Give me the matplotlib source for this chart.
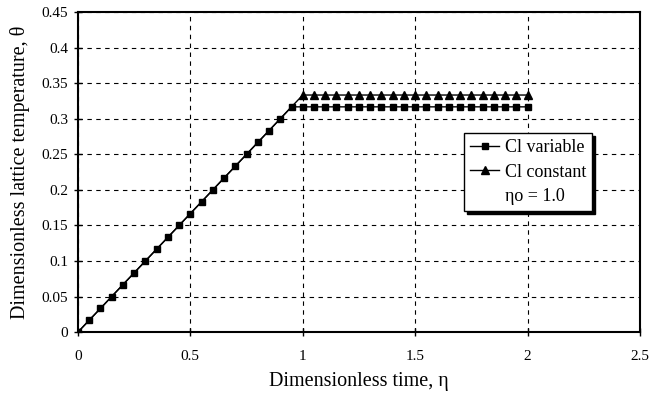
import numpy as np
import matplotlib.pyplot as plt
from matplotlib.lines import Line2D

plt.rcParams['font.family'] = ['Liberation Serif', 'DejaVu Serif']
plt.rcParams['mathtext.fontset'] = 'stix'

eta = [0.0, 0.05, 0.1, 0.15, 0.2, 0.25, 0.3, 0.35, 0.4, 0.45, 0.5, 0.55, 0.6, 0.65,
       0.7, 0.75, 0.8, 0.85, 0.9, 0.95, 1.0, 1.05, 1.1, 1.15, 1.2, 1.25, 1.3, 1.35,
       1.4, 1.45, 1.5, 1.55, 1.6, 1.65, 1.7, 1.75, 1.8, 1.85, 1.9, 1.95, 2.0]

theta_var = [0.0, 0.0167, 0.0333, 0.05, 0.0667, 0.0833, 0.1, 0.1167, 0.1333, 0.15,
             0.1667, 0.1833, 0.2, 0.2167, 0.2333, 0.25, 0.2667, 0.2833, 0.3, 0.3167,
             0.3167, 0.3167, 0.3167, 0.3167, 0.3167, 0.3167, 0.3167, 0.3167, 0.3167,
             0.3167, 0.3167, 0.3167, 0.3167, 0.3167, 0.3167, 0.3167, 0.3167, 0.3167,
             0.3167, 0.3167, 0.3167]

theta_const = [0.0, 0.0167, 0.0333, 0.05, 0.0667, 0.0833, 0.1, 0.1167, 0.1333, 0.15,
               0.1667, 0.1833, 0.2, 0.2167, 0.2333, 0.25, 0.2667, 0.2833, 0.3, 0.3167,
               0.3333, 0.3333, 0.3333, 0.3333, 0.3333, 0.3333, 0.3333, 0.3333, 0.3333,
               0.3333, 0.3333, 0.3333, 0.3333, 0.3333, 0.3333, 0.3333, 0.3333, 0.3333,
               0.3333, 0.3333, 0.3333]

fig = plt.figure(figsize=(6.66, 3.94), dpi=100)
ax = fig.add_axes([0.117, 0.157, 0.844, 0.8125])

l2, = ax.plot(eta, theta_const, color='black', lw=1.0, marker='^', ms=5.5,
              markevery=list(range(20, len(eta))), label='Cl constant', zorder=3)
l1, = ax.plot(eta, theta_var, color='black', lw=1.0, marker='s', ms=5,
              label='Cl variable', zorder=4)

ax.set_xlim(0, 2.5)
ax.set_ylim(0, 0.45)
ax.set_xticks(np.arange(0, 2.51, 0.5))
ax.set_xticklabels(['0', '0.5', '1', '1.5', '2', '2.5'])
ax.set_yticks(np.arange(0, 0.451, 0.05))
ax.set_yticklabels(['0', '0.05', '0.1', '0.15', '0.2', '0.25', '0.3', '0.35', '0.4', '0.45'])
ax.grid(True, color='black', linestyle=(0, (4, 4)), lw=0.8)
ax.tick_params(direction='inout', length=6, width=1, labelsize=11, pad=4)
ax.tick_params(axis='x', pad=10)
for s in ax.spines.values():
    s.set_linewidth(1.5)

ax.set_xlabel('Dimensionless time, \u03b7', fontsize=14.5, labelpad=6)
ax.set_ylabel('Dimensionless lattice temperature, \u03b8', fontsize=14.5, labelpad=8)

blank = Line2D([], [], linestyle='none', marker=None)
leg = ax.legend([l1, l2, blank], ['Cl variable', 'Cl constant', '\u03b7o = 1.0'],
                loc='upper left', bbox_to_anchor=(0.687, 0.622), borderaxespad=0,
                fontsize=13, frameon=True, fancybox=False, framealpha=1,
                edgecolor='black', handlelength=1.6, handletextpad=0.3,
                borderpad=0.35, labelspacing=0.4,
                shadow={'color': 'black', 'alpha': 1, 'ox': 2, 'oy': -2})
leg.get_frame().set_linewidth(1.0)

fig.savefig('out.png', dpi=100)
